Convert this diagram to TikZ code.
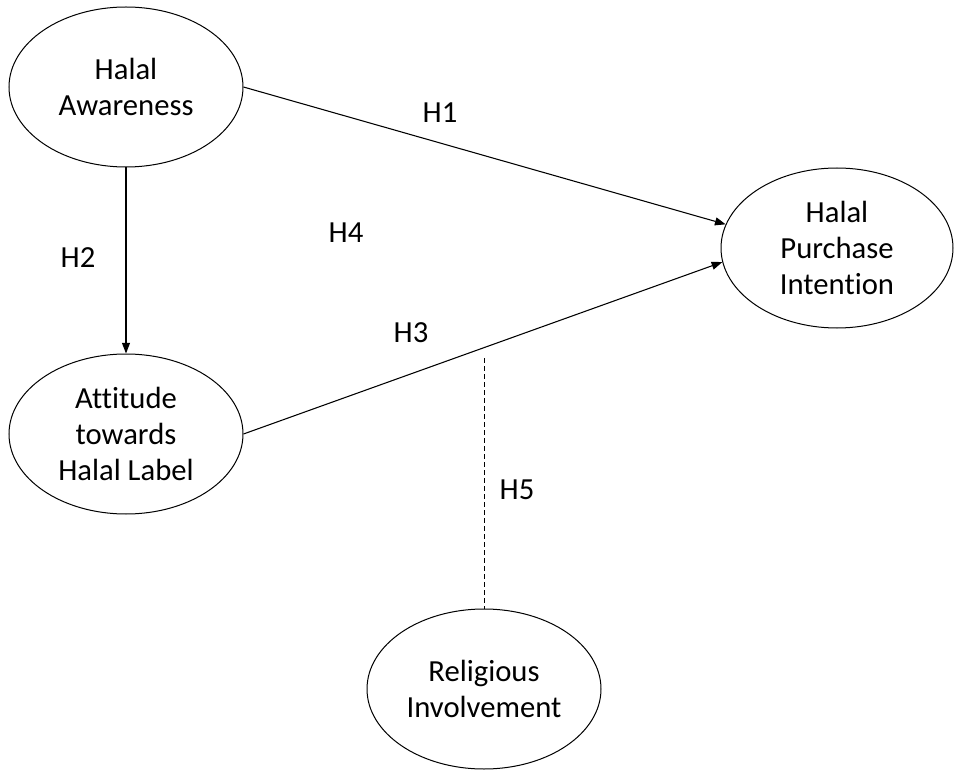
\documentclass[tikz,border=0pt]{standalone}
\usepackage{fontspec}
\setmainfont[Ligatures=NoCommon]{Carlito}
\usetikzlibrary{shapes.geometric,arrows.meta}
\begin{document}
\begin{tikzpicture}[x=0.75pt,y=-0.75pt,
  construct/.style={ellipse,draw,line width=0.75pt,minimum width=175.5pt,minimum height=120pt,inner sep=0pt,align=center,font=\fontsize{23pt}{27pt}\selectfont},
  link/.style={line width=0.8pt,-{Triangle[length=8pt,width=6pt]}},
  hyp/.style={font=\fontsize{23pt}{27pt}\selectfont,inner sep=0pt}]
\useasboundingbox (0,0) rectangle (954,770);
\node[construct] (HA) at (126,87) {Halal\\Awareness};
\node[construct] (ATH) at (126,434) {Attitude\\towards\\Halal Label};
\node[construct,minimum width=174pt] (HPI) at (837,248) {Halal\\Purchase\\Intention};
\node[construct] (RI) at (484,689) {Religious\\Involvement};
\draw[link] (HA.east) -- (HPI.168);
\draw[link] (ATH.east) -- (HPI.187);
\draw[link] (HA.south) -- (ATH.north);
\coordinate (mod) at (484,358);
\draw[line width=0.75pt,dash pattern=on 3.75pt off 2.25pt] (mod) -- (RI.north);
\node[hyp] (h1) at (440,113) {H1};
\node[hyp] (h2) at (78,258) {H2};
\node[hyp] (h4) at (346,233) {H4};
\node[hyp] (h3) at (411,333) {H3};
\node[hyp] (h5) at (517,490) {H5};
\end{tikzpicture}
\end{document}
